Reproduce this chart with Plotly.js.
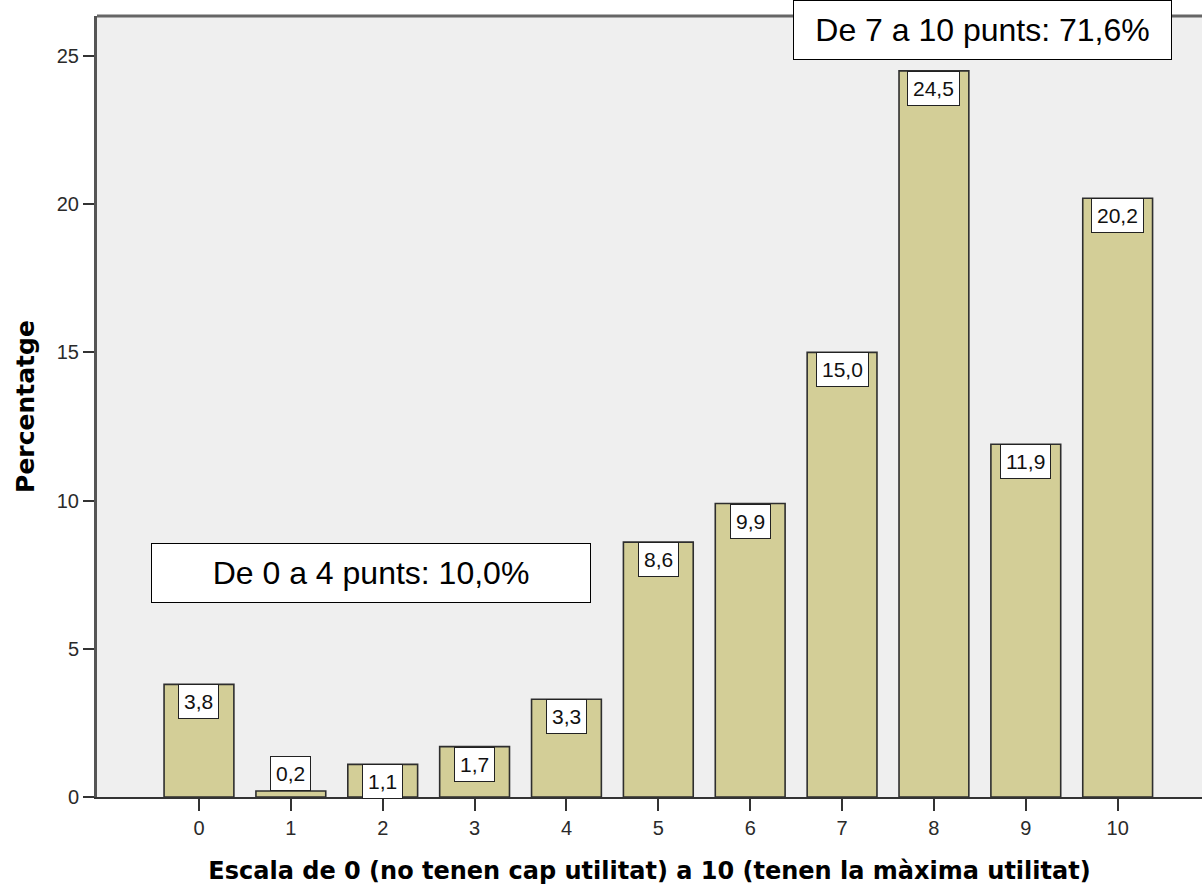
<!DOCTYPE html>
<html>
<head>
<meta charset="utf-8">
<script src="https://cdn.plot.ly/plotly-3.0.1.min.js"></script>
<style>html,body{margin:0;padding:0;background:#fff;overflow:hidden}</style>
</head>
<body>
<div id="chart" style="width:1202px;height:885px"></div>
<script>
const categories = [0, 1, 2, 3, 4, 5, 6, 7, 8, 9, 10];
const percentages = [3.8, 0.2, 1.1, 1.7, 3.3, 8.6, 9.9, 15.0, 24.5, 11.9, 20.2];
const valueLabels = ["3,8", "0,2", "1,1", "1,7", "3,3", "8,6", "9,9", "15,0", "24,5", "11,9", "20,2"];
const yTicks = [0, 5, 10, 15, 20, 25];
const xTitle = "Escala de 0 (no tenen cap utilitat) a 10 (tenen la màxima utilitat)";
const yTitle = "Percentatge";
const groupLow = "De 0 a 4 punts: 10,0%";
const groupHigh = "De 7 a 10 punts: 71,6%";

const trace = {
  type: 'bar',
  x: categories,
  y: percentages,
  width: 0.76,
  marker: {color: '#d3ce97', line: {color: '#2e2e2e', width: 1.6}},
  hoverinfo: 'none'
};

const labelAnns = categories.map((c, i) => ({
  x: c, y: percentages[i], xref: 'x', yref: 'y',
  text: valueLabels[i], showarrow: false,
  yanchor: percentages[i] < 0.5 ? 'bottom' : 'top',
  font: {family: 'Liberation Sans, Arial, sans-serif', size: 21, color: '#111'},
  bgcolor: '#ffffff', bordercolor: '#222', borderwidth: 1, borderpad: 5
}));

const boxAnns = [
  {x: 1.872, y: 7.557, xref: 'x', yref: 'y', text: groupLow, showarrow: false,
   width: 438, height: 58, borderpad: 0, bgcolor: '#ffffff', bordercolor: '#000', borderwidth: 1,
   font: {family: 'Liberation Sans, Arial, sans-serif', size: 32, color: '#000'}},
  {x: 8.528, y: 25.89, xref: 'x', yref: 'y', text: groupHigh, showarrow: false,
   width: 377, height: 58, borderpad: 0, bgcolor: '#ffffff', bordercolor: '#000', borderwidth: 1,
   font: {family: 'Liberation Sans, Arial, sans-serif', size: 32, color: '#000'}}
];

const layout = {
  width: 1202, height: 885,
  margin: {l: 97, r: 0, t: 16, b: 88},
  paper_bgcolor: '#ffffff',
  plot_bgcolor: '#efefef',
  showlegend: false,
  bargap: 0,
  xaxis: {
    range: [-1.110, 10.918],
    tickmode: 'array', tickvals: categories, ticktext: categories.map(String),
    showgrid: false, zeroline: false,
    showline: true, linecolor: '#333', linewidth: 2,
    ticks: 'outside', ticklen: 12, tickwidth: 2, tickcolor: '#333',
    tickfont: {family: 'Liberation Sans, Arial, sans-serif', size: 20, color: '#2a2a2a'},
    title: {text: xTitle, standoff: 24,
      font: {family: 'DejaVu Sans, sans-serif', size: 24, color: '#000', weight: 'bold'}}
  },
  yaxis: {
    range: [0, 26.35],
    tickmode: 'array', tickvals: yTicks, ticktext: yTicks.map(String),
    showgrid: false, zeroline: false,
    showline: true, linecolor: '#555', linewidth: 3,
    ticks: 'outside', ticklen: 11, tickwidth: 2, tickcolor: '#333',
    tickfont: {family: 'Liberation Sans, Arial, sans-serif', size: 20, color: '#2a2a2a'},
    title: {text: yTitle, standoff: 16,
      font: {family: 'DejaVu Sans, sans-serif', size: 25, color: '#000', weight: 'bold'}}
  },
  shapes: [
    {type: 'line', xref: 'paper', yref: 'paper', x0: 0, x1: 1, y0: 1, y1: 1,
     line: {color: '#666', width: 3}, layer: 'above'}
  ],
  annotations: labelAnns.concat(boxAnns)
};

Plotly.newPlot('chart', [trace], layout, {displayModeBar: false, staticPlot: true});
</script>
</body>
</html>
